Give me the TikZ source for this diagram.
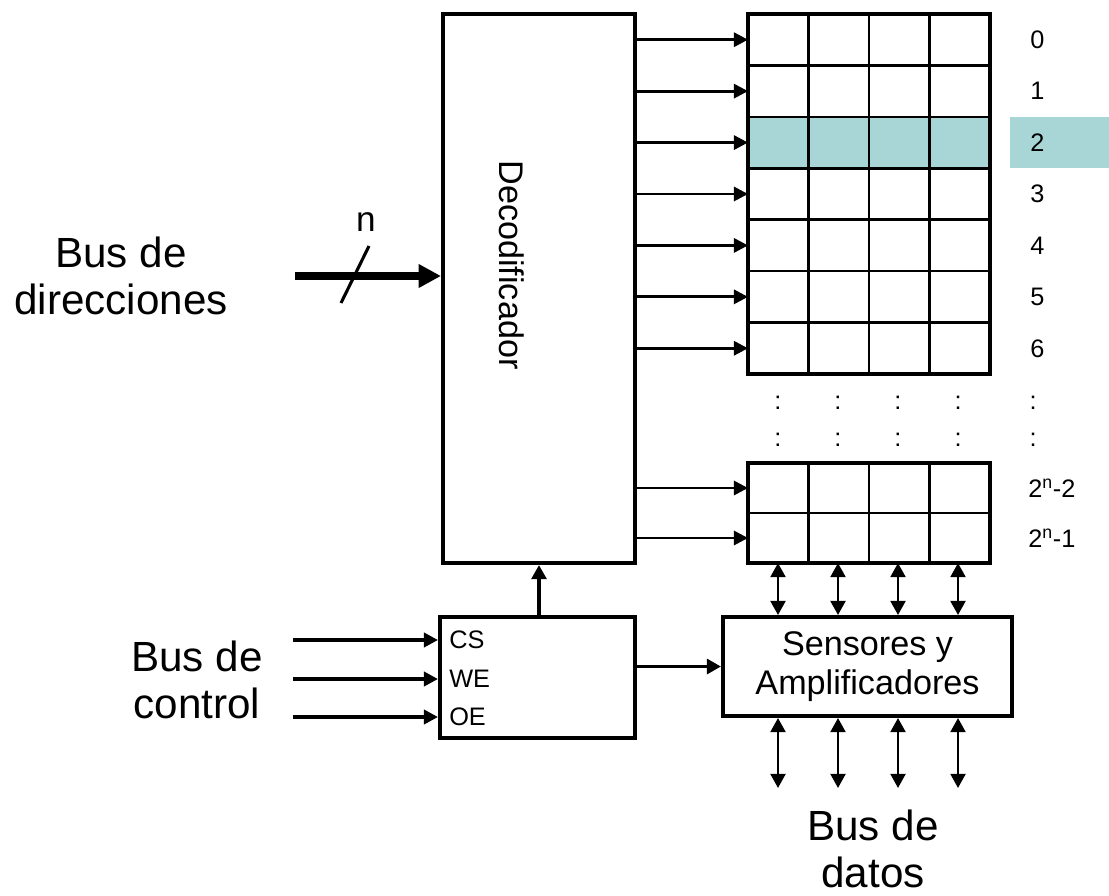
\documentclass[tikz,border=0pt]{standalone}
\usepackage{fontspec}
\setmainfont{Liberation Sans}
\definecolor{memteal}{RGB}{168,214,214}
\usetikzlibrary{arrows.meta,positioning}

\tikzset{
  blockbox/.style={draw,line width=2.8pt,inner sep=0pt},
  wire/.style={line width=2pt,-{Triangle[length=10pt,width=10pt]}},
  thickwire/.style={line width=2.6pt,-{Triangle[length=10pt,width=10.5pt]}},
  biwire/.style={line width=1.9pt,{Triangle[length=10pt,width=10.5pt]}-{Triangle[length=10pt,width=10.5pt]}},
  buslabel/.style={font=\fontsize{30}{33.6}\selectfont,align=center},
  boxlabel/.style={font=\fontsize{24.3}{27.3}\selectfont,align=center},
  smalllabel/.style={font=\fontsize{18}{21}\selectfont,inner sep=0pt},
}

\begin{document}
\begin{tikzpicture}[x=0.025cm,y=-0.025cm]
  \useasboundingbox (0,0) rectangle (1109,895);

  % blocks
  \node[blockbox,minimum width=4.8cm,minimum height=13.725cm] (dec) at (539,288.5) {};
  \node[boxlabel,rotate=-90] (dectext) at (512,265) {Decodificador};
  \node[blockbox,minimum width=4.875cm,minimum height=3.025cm] (ctrl) at (537.5,677.5) {};
  \node[blockbox,minimum width=7.225cm,minimum height=2.475cm,boxlabel] (sens) at (867.5,666.5)
    {Sensores y\\Amplificadores};

  % memory array
  \fill[memteal] (748,116.9) rectangle (990,168.3);
  \fill[memteal] (1010,116.9) rectangle (1109,168.3);
  \foreach \i in {1,...,6}
    \draw[line width=1.8pt] (748,{14+51.43*\i}) -- (990,{14+51.43*\i});
  \draw[line width=1.8pt] (748,513) -- (990,513);
  \foreach \x in {808.5,869,929.5} {
    \draw[line width=1.8pt] (\x,14) -- (\x,374);
    \draw[line width=1.8pt] (\x,463) -- (\x,563);
  }
  \draw[line width=3.5pt] (748,14) rectangle (990,374);
  \draw[line width=3.5pt] (748,463) rectangle (990,563);

  % word lines
  \foreach \i in {0,...,6} {
    \coordinate (row\i) at (748,{39.7+51.43*\i});
    \draw[wire] (dec.east |- row\i) -- (row\i);
    \node[smalllabel,anchor=west] (lab\i) at (1030,{39.7+51.43*\i}) {\i};
  }
  \coordinate (rowa) at (748,488);
  \coordinate (rowb) at (748,538);
  \draw[wire] (dec.east |- rowa) -- (rowa);
  \draw[wire] (dec.east |- rowb) -- (rowb);
  \node[smalllabel,anchor=west] (laba) at (1028,488) {2\textsuperscript{n}-2};
  \node[smalllabel,anchor=west] (labb) at (1028,538) {2\textsuperscript{n}-1};
  \foreach \x in {778,838,898,958,1033}
    \foreach \y in {403,440}
      \node[smalllabel] (dot\x-\y) at (\x,\y) {:};

  % address bus
  \coordinate (busin) at (295,276);
  \draw[line width=5pt,-{Triangle[length=16pt,width=16pt]}] (busin) -- (dec.west |- busin);
  \draw[line width=2.2pt] (341,303) -- (369,246);
  \node[font=\fontsize{25}{28}\selectfont] (nlab) at (366,222) {n};
  \node[buslabel] (dirlab) at (121,276) {Bus de\\direcciones};

  % control bus
  \node[buslabel] (ctrllab) at (197,680) {Bus de\\control};
  \foreach \s/\y in {CS/640,WE/679,OE/717} {
    \coordinate (in\s) at (293,\y);
    \draw[line width=2.8pt,-{Triangle[length=10pt,width=10pt]}] (in\s) -- (ctrl.west |- in\s);
    \node[smalllabel,anchor=west] (lab\s) at (449,\y) {\s};
  }
  \draw[thickwire] (dec.south |- ctrl.north) -- (dec.south);
  \draw[thickwire] (ctrl.east |- sens.west) -- (sens.west);

  % data bus
  \foreach \i/\x in {1/778,2/838,3/898,4/958} {
    \coordinate (top\i) at (\x,563);
    \coordinate (bot\i) at (\x,788);
    \draw[biwire] (top\i) -- (top\i |- sens.north);
    \draw[biwire] (bot\i |- sens.south) -- (bot\i);
  }
  \node[buslabel] (datlab) at (873,849) {Bus de\\datos};
\end{tikzpicture}
\end{document}
